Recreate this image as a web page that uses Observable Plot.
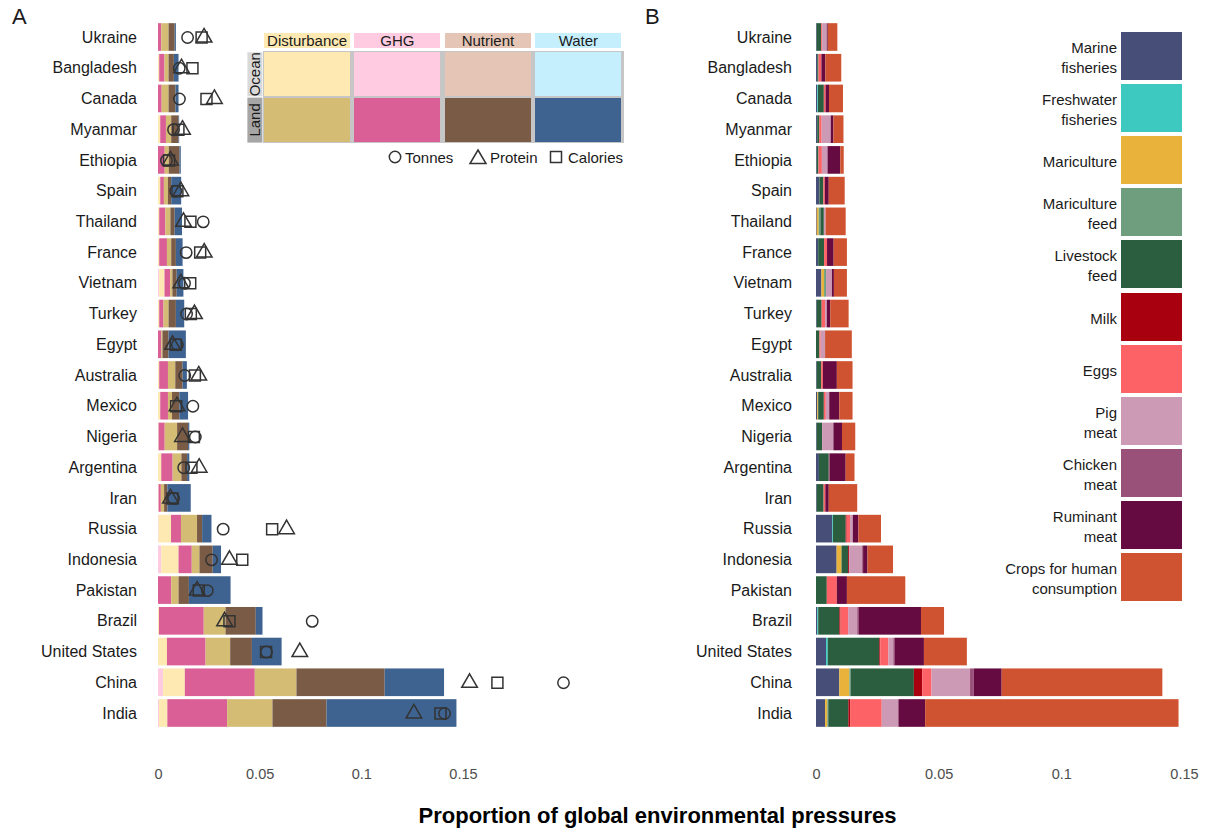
<!DOCTYPE html>
<html><head><meta charset="utf-8">
<script src="https://cdn.jsdelivr.net/npm/d3@7"></script>
<script src="https://cdn.jsdelivr.net/npm/@observablehq/plot@0.6"></script>
<style>
body{margin:0;background:#fff;font-family:"Liberation Sans",Arial,Helvetica,sans-serif;color:#1a1a1a;}
#wrap{position:relative;width:1209px;height:835px;overflow:hidden;background:#fff;}
.abs{position:absolute;box-sizing:border-box;}
</style></head><body><div id="wrap"></div>
<script>
const countries = ["Ukraine","Bangladesh","Canada","Myanmar","Ethiopia","Spain","Thailand","France","Vietnam","Turkey","Egypt","Australia","Mexico","Nigeria","Argentina","Iran","Russia","Indonesia","Pakistan","Brazil","United States","China","India"];

// Panel A: proportion of global pressures by origin (ocean/land) and pressure type
const oceanGHG  = [0,0,0,0,0,0,0,0,0.0006,0,0,0,0,0,0,0,0.0003,0.0016,0,0,0,0.0025,0.0005];
const oceanDist = [0,0.0006,0,0.0011,0,0.0011,0.0006,0.0006,0.0026,0.0006,0,0.0006,0.0011,0.0003,0.0016,0.0003,0.0061,0.0085,0,0.0005,0.0044,0.0107,0.0041];
const landGHG   = [0.0016,0.0026,0.0018,0.0028,0.0033,0.0018,0.0030,0.0038,0.0028,0.0021,0.0016,0.0043,0.0038,0.0030,0.0056,0.0011,0.0049,0.0065,0.0065,0.0220,0.0190,0.0344,0.0294];
const landDist  = [0.0036,0.0020,0.0034,0.0026,0.0020,0.0020,0.0025,0.0021,0.0011,0.0025,0.0006,0.0036,0.0020,0.0061,0.0043,0.0016,0.0079,0.0038,0.0036,0.0107,0.0121,0.0205,0.0223];
const landNutr  = [0.0030,0.0026,0.0034,0.0036,0.0053,0.0016,0.0021,0.0023,0.0021,0.0036,0.0030,0.0036,0.0036,0.0054,0.0028,0.0016,0.0025,0.0065,0.0051,0.0149,0.0107,0.0434,0.0266];
const landWater = [0.0006,0.0023,0.0015,0.0003,0.0006,0.0049,0.0036,0.0033,0.0033,0.0041,0.0085,0.0021,0.0043,0.0006,0.0011,0.0115,0.0046,0.0041,0.0205,0.0033,0.0146,0.0292,0.0639];
const tonnes    = [0.0143,0.0102,0.0103,0.0074,0.0039,0.0085,0.0220,0.0136,0.0128,0.0138,0.0093,0.0129,0.0169,0.0181,0.0124,0.0074,0.0318,0.0261,0.0240,0.0756,0.0531,0.1992,0.1407];
const protein   = [0.0224,0.0113,0.0275,0.0118,0.0059,0.0110,0.0123,0.0225,0.0110,0.0177,0.0069,0.0198,0.0091,0.0118,0.0200,0.0059,0.0630,0.0349,0.0190,0.0325,0.0695,0.1530,0.1256];
const calories  = [0.0212,0.0167,0.0236,0.0098,0.0052,0.0093,0.0157,0.0205,0.0156,0.0159,0.0085,0.0179,0.0087,0.0174,0.0162,0.0069,0.0559,0.0412,0.0198,0.0349,0.0529,0.1667,0.1387];

const pressures = ["Disturbance","GHG","Nutrient","Water"];
const oceanColors = ["#fde9b1","#fecbe0","#e5c5b5","#c5effd"];
const landColors  = ["#d4bc74","#d95f96","#7a5b46","#3f6390"];
const seriesA = ["Ocean GHG","Ocean Disturbance","Land GHG","Land Disturbance","Land Nutrient","Land Water"];
const colorsA = ["#fecbe0","#fde9b1","#d95f96","#d4bc74","#7a5b46","#3f6390"];
const valuesA = [oceanGHG, oceanDist, landGHG, landDist, landNutr, landWater];

// Panel B: proportion of global pressures by food source
const marineFish      = [0.0003,0.0005,0.0005,0.0005,0.0003,0.0014,0.0003,0.0009,0.0022,0.0003,0,0.0003,0.0005,0.0003,0.0012,0.0003,0.0066,0.0084,0,0.0005,0.0041,0.0095,0.0037];
const freshFish       = [0,0,0.0003,0,0,0,0,0,0,0,0,0,0,0,0,0,0.0003,0,0,0.0004,0.0007,0,0];
const mariculture     = [0,0,0,0,0,0,0.0008,0,0.0011,0,0,0,0.0004,0,0,0,0,0.0020,0,0,0,0.0041,0.0009];
const maricultureFeed = [0,0,0,0,0,0,0.0007,0,0.0008,0,0,0,0,0,0,0,0,0,0,0,0,0.0005,0.0004];
const livestockFeed   = [0.0018,0.0005,0.0024,0.0008,0.0007,0.0016,0.0014,0.0024,0,0.0020,0.0014,0.0018,0.0023,0.0022,0.0040,0.0028,0.0052,0.0027,0.0044,0.0086,0.0210,0.0258,0.0082];
const milk            = [0,0,0,0,0,0,0,0,0,0,0,0,0,0,0,0,0.0004,0.0004,0,0.0005,0.0004,0.0034,0.0007];
const eggs            = [0.0004,0.0012,0.0007,0.0010,0.0014,0.0006,0,0.0012,0,0.0014,0.0005,0.0007,0.0008,0,0,0.0007,0.0014,0,0.0041,0.0031,0.0033,0.0038,0.0129];
const pigMeat         = [0.0019,0,0,0.0037,0.0023,0,0.0007,0,0.0024,0.0007,0.0018,0,0.0014,0.0046,0,0,0.0011,0.0053,0,0.0037,0.0020,0.0157,0.0068];
const chickenMeat     = [0,0,0,0,0,0,0,0,0,0,0,0,0,0,0.0004,0,0,0.0004,0,0.0007,0.0007,0.0015,0];
const ruminantMeat    = [0.0004,0.0016,0.0014,0.0011,0.0052,0.0016,0,0.0027,0.0008,0.0014,0,0.0057,0.0041,0.0035,0.0065,0.0014,0.0023,0.0018,0.0041,0.0253,0.0118,0.0114,0.0109];
const crops           = [0.0039,0.0065,0.0057,0.0041,0.0014,0.0065,0.0082,0.0054,0.0053,0.0075,0.0109,0.0064,0.0054,0.0054,0.0036,0.0116,0.0092,0.0104,0.0238,0.0094,0.0175,0.0655,0.1033];

const seriesB = ["Marine fisheries","Freshwater fisheries","Mariculture","Mariculture feed","Livestock feed","Milk","Eggs","Pig meat","Chicken meat","Ruminant meat","Crops for human consumption"];
const labelsB = ["Marine\nfisheries","Freshwater\nfisheries","Mariculture","Mariculture\nfeed","Livestock\nfeed","Milk","Eggs","Pig\nmeat","Chicken\nmeat","Ruminant\nmeat","Crops for human\nconsumption"];
const colorsB = ["#474f78","#3dc8c0","#e9b23b","#6f9e7e","#2b5e3e","#a8000f","#fd6366","#cc9ab5","#9a5179","#650b41","#cf5330"];
const valuesB = [marineFish,freshFish,mariculture,maricultureFeed,livestockFeed,milk,eggs,pigMeat,chickenMeat,ruminantMeat,crops];

const xTicks = [0, 0.05, 0.1, 0.15];
const FONT = '"Liberation Sans", Arial, Helvetica, sans-serif';

const rowsA = [];
seriesA.forEach((s, j) => countries.forEach((c, i) => rowsA.push({country: c, series: s, value: valuesA[j][i]})));
const rowsB = [];
seriesB.forEach((s, j) => countries.forEach((c, i) => rowsB.push({country: c, series: s, value: valuesB[j][i]})));
const pts = (arr) => countries.map((c, i) => ({country: c, value: arr[i]}));

const wrap = document.getElementById("wrap");
function place(el, left, top) { el.style.position = "absolute"; el.style.left = left + "px"; el.style.top = top + "px"; wrap.appendChild(el); return el; }

const common = {
  height: 790, marginTop: 20.1, marginBottom: 60.1,
  y: {domain: countries, padding: 0.1, round: false},
  style: {fontFamily: FONT, background: "transparent", color: "#1a1a1a", overflow: "visible"}
};
const axisY = (pad) => Plot.axisY({tickSize: 0, tickPadding: pad, fontSize: 16, fill: "#1a1a1a", label: null});
const axisX = () => Plot.axisX({ticks: xTicks, tickFormat: d => String(d), tickSize: 0, tickPadding: 38, fontSize: 14.5, fill: "#4d4d4d", label: null});

const plotA = Plot.plot({
  ...common,
  width: 640, marginLeft: 158, marginRight: 14.4,
  x: {domain: [0, 0.23]},
  color: {domain: seriesA, range: colorsA},
  marks: [
    Plot.barX(rowsA, {x: "value", y: "country", fill: "series", order: seriesA}),
    Plot.dot(pts(tonnes), {x: "value", y: "country", symbol: "circle", r: 5.7, fill: "none", stroke: "#333", strokeWidth: 1.5}),
    Plot.dot(pts(protein), {x: "value", y: "country", symbol: "triangle", r: 5.8, fill: "none", stroke: "#333", strokeWidth: 1.5}),
    Plot.dot(pts(calories), {x: "value", y: "country", symbol: "square", r: 6.2, fill: "none", stroke: "#333", strokeWidth: 1.5}),
    axisY(21.5), axisX()
  ]
});
place(plotA, 0, 0);

const plotB = Plot.plot({
  ...common,
  width: 569, marginLeft: 176, marginRight: 12.8,
  x: {domain: [0, 0.155]},
  color: {domain: seriesB, range: colorsB},
  marks: [
    Plot.barX(rowsB, {x: "value", y: "country", fill: "series", order: seriesB}),
    axisY(24.5), axisX()
  ]
});
place(plotB, 640, 0);

function box(left, top, w, h, bg, text, css) {
  const d = document.createElement("div");
  d.className = "abs";
  Object.assign(d.style, {left: left + "px", top: top + "px", width: w + "px", height: h + "px", background: bg || "transparent"}, css || {});
  if (text != null) d.textContent = text;
  wrap.appendChild(d);
  return d;
}

// Panel letters
box(12, 4, 30, 28, null, "A", {fontSize: "22px"});
box(645, 4, 30, 28, null, "B", {fontSize: "22px"});

// Legend A grid
const colX = [264, 354.3, 444.8, 535.3], colW = 88.2;
pressures.forEach((p, i) => {
  box(colX[i], 33.3, colW - 2, 15, oceanColors[i], p, {fontSize: "15px", lineHeight: "16px", textAlign: "center"});
});
box(262.7, 50.5, 361, 92, "#c6c6c6");
pressures.forEach((p, i) => {
  box(colX[i], 51.7, colW - 2, 44.3, oceanColors[i]);
  box(colX[i], 97.7, colW - 2, 44.6, landColors[i]);
});
const vlab = {fontSize: "15px", writingMode: "vertical-rl", transform: "rotate(180deg)", display: "flex", alignItems: "center", justifyContent: "center", lineHeight: "15px"};
box(247.3, 51.7, 15.4, 44.3, "#d9d9d9", "Ocean", vlab);
box(247.3, 97.7, 15.4, 44.6, "#a6a6a6", "Land", vlab);

// Symbol legend
const ns = "http://www.w3.org/2000/svg";
const sv = document.createElementNS(ns, "svg");
sv.setAttribute("width", 260); sv.setAttribute("height", 26);
sv.style.position = "absolute"; sv.style.left = "380px"; sv.style.top = "144px";
sv.innerHTML = `
<g fill="none" stroke="#333" stroke-width="1.5">
<circle cx="15" cy="13" r="5.7"/>
<path d="M98,6 L106,19.5 L90,19.5 Z"/>
<rect x="170.5" y="7.5" width="11" height="11"/>
</g>
<g font-family='${FONT}' font-size="15" fill="#1a1a1a">
<text x="25" y="18.5">Tonnes</text>
<text x="110" y="18.5">Protein</text>
<text x="188" y="18.5">Calories</text>
</g>`;
wrap.appendChild(sv);

// Legend B
seriesB.forEach((s, i) => {
  const top = 32 + i * 52.1;
  box(1121, top, 61, 48, colorsB[i]);
  box(1117 - 220, top + 2, 220, 48, null, labelsB[i], {fontSize: "15px", lineHeight: "20px", whiteSpace: "pre-line", textAlign: "right", display: "flex", alignItems: "center", justifyContent: "flex-end"});
});

// Shared x-axis title
box(657.5 - 350, 803, 700, 26, null, "Proportion of global environmental pressures", {fontSize: "22px", fontWeight: "bold", textAlign: "center", lineHeight: "26px", color: "#000"});
</script>
</body></html>
